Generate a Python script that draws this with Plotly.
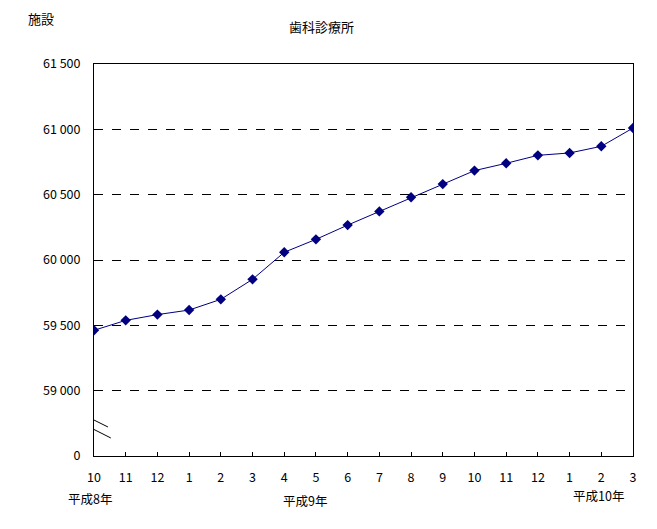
import plotly.graph_objects as go

months = ["10", "11", "12", "1", "2", "3", "4", "5", "6", "7", "8", "9", "10", "11", "12", "1", "2", "3"]
facilities = [59462, 59538, 59582, 59617, 59699, 59852, 60059, 60158, 60267, 60372, 60480, 60581,
              60684, 60740, 60801, 60819, 60870, 61010]
y_tickvals = [58500, 59000, 59500, 60000, 60500, 61000, 61500]
y_ticktext = ["0", "59 000", "59 500", "60 000", "60 500", "61 000", "61 500"]
year_labels = ["平成8年", "平成9年", "平成10年"]

FONT = "Noto Sans CJK JP"
x_idx = list(range(len(months)))

# page has an 8px body margin; figure is placed at (8, 8)
OFF = 8
FIG_W, FIG_H = 641, 513
L, T = 94 - OFF, 64 - OFF
R = FIG_W - (635 - OFF)
B = FIG_H - (456 - OFF)

fig = go.Figure()
fig.add_trace(go.Scatter(
    x=x_idx, y=facilities, mode="lines+markers",
    line=dict(color="#000080", width=1),
    marker=dict(symbol="diamond", size=8, color="#000080"),
    showlegend=False, hoverinfo="skip",
))

fig.update_layout(
    width=FIG_W, height=FIG_H,
    margin=dict(l=L, r=R, t=T, b=B),
    paper_bgcolor="white", plot_bgcolor="white",
    font=dict(family=FONT, size=12, color="black"),
    xaxis=dict(
        range=[0, len(months) - 1], tickvals=x_idx, ticktext=months,
        showgrid=False, zeroline=False, showline=True, linecolor="black", linewidth=1,
        mirror=True, ticks="inside", ticklen=4, tickcolor="black",
        tickfont=dict(family=FONT, size=12.5), ticklabelstandoff=10,
    ),
    yaxis=dict(
        range=[58500, 61500], tickvals=y_tickvals, ticktext=y_ticktext,
        showgrid=True, gridcolor="black", griddash="dash", gridwidth=1,
        zeroline=False, showline=True, linecolor="black", linewidth=1, mirror=True,
        ticks="", tickfont=dict(family=FONT, size=12.5), ticklabelstandoff=10,
    ),
)

plot_w = FIG_W - L - R
plot_h = FIG_H - T - B
def px(xp):
    return (xp - 94) / plot_w
def py(yp):
    return (456 - yp) / plot_h

def ann(text, xp, yp, size):
    fig.add_annotation(text=text, x=px(xp), y=py(yp), xref="paper", yref="paper",
                       xanchor="center", yanchor="middle",
                       showarrow=False, font=dict(family=FONT, size=size))

ann("歯科診療所", 322, 27, 13)
ann("施設", 41, 19, 13)
for lbl, xp, yp in zip(year_labels, [90, 306, 600], [498, 500, 496]):
    ann(lbl, xp, yp, 12.5)

# axis break marks
for (x0, y0, x1, y1) in [(-0.19, 58798, 0.44, 58722), (-0.09, 58714, 0.53, 58638)]:
    fig.add_shape(type="line", x0=x0, y0=y0, x1=x1, y1=y1, xref="x", yref="y",
                  line=dict(color="black", width=1))

fig.write_html("out.html")
